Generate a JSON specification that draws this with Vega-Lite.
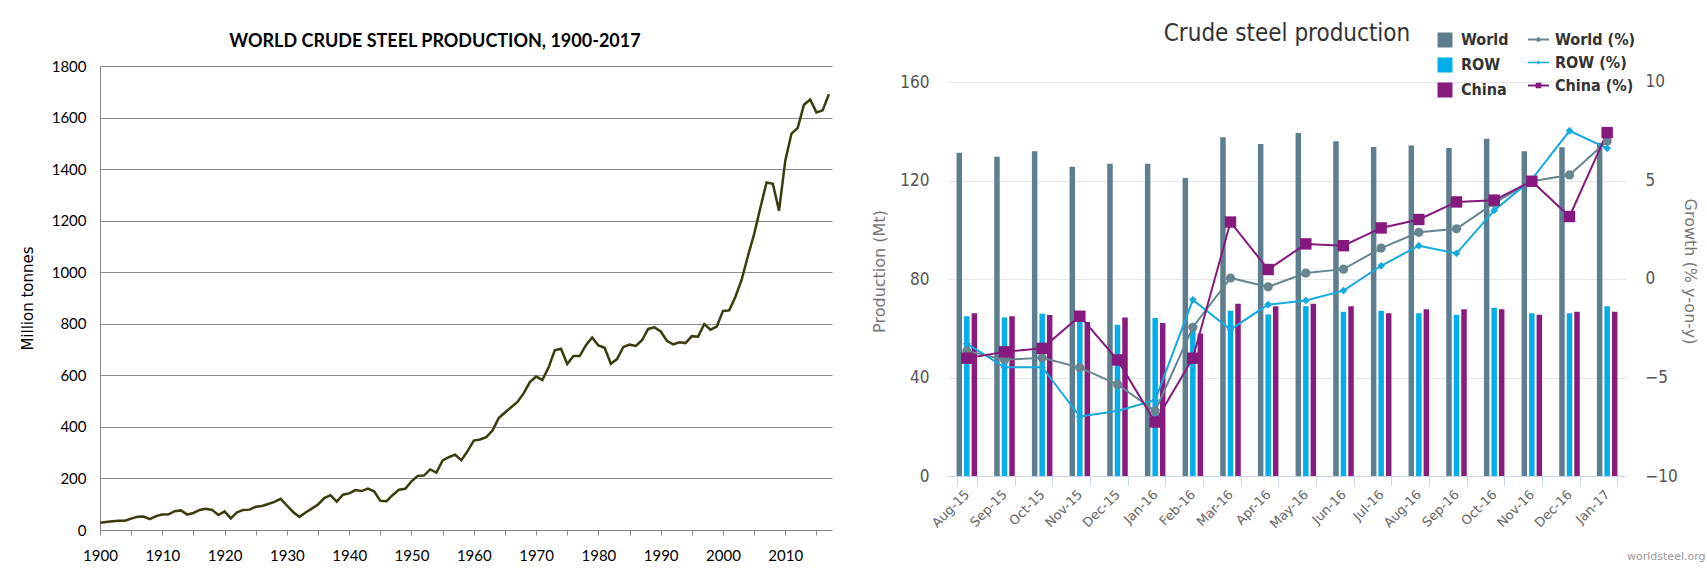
{
  "$schema": "https://vega.github.io/schema/vega-lite/v6.json",
  "background": "white",
  "padding": {"left": 20, "top": 22, "right": 0, "bottom": 0},
  "spacing": 37,
  "config": {"view": {"stroke": null}},
  "resolve": {"scale": {"color": "independent", "shape": "independent"}},
  "datasets": {
    "annual": [
      {"year":1900,"mt":28},{"year":1901,"mt":31},{"year":1902,"mt":34},{"year":1903,"mt":36},{"year":1904,"mt":36},
      {"year":1905,"mt":44},{"year":1906,"mt":51},{"year":1907,"mt":52},{"year":1908,"mt":42},{"year":1909,"mt":54},
      {"year":1910,"mt":60},{"year":1911,"mt":61},{"year":1912,"mt":73},{"year":1913,"mt":76},{"year":1914,"mt":60},
      {"year":1915,"mt":66},{"year":1916,"mt":78},{"year":1917,"mt":82},{"year":1918,"mt":78},{"year":1919,"mt":58},
      {"year":1920,"mt":72},{"year":1921,"mt":45},{"year":1922,"mt":69},{"year":1923,"mt":78},{"year":1924,"mt":79},
      {"year":1925,"mt":90},{"year":1926,"mt":93},{"year":1927,"mt":101},{"year":1928,"mt":109},{"year":1929,"mt":121},
      {"year":1930,"mt":95},{"year":1931,"mt":70},{"year":1932,"mt":51},{"year":1933,"mt":68},{"year":1934,"mt":83},
      {"year":1935,"mt":99},{"year":1936,"mt":124},{"year":1937,"mt":135},{"year":1938,"mt":110},{"year":1939,"mt":137},
      {"year":1940,"mt":142},{"year":1941,"mt":155},{"year":1942,"mt":151},{"year":1943,"mt":161},{"year":1944,"mt":150},
      {"year":1945,"mt":113},{"year":1946,"mt":112},{"year":1947,"mt":136},{"year":1948,"mt":156},{"year":1949,"mt":160},
      {"year":1950,"mt":189},{"year":1951,"mt":210},{"year":1952,"mt":211},{"year":1953,"mt":235},{"year":1954,"mt":223},
      {"year":1955,"mt":270},{"year":1956,"mt":283},{"year":1957,"mt":292},{"year":1958,"mt":271},{"year":1959,"mt":306},
      {"year":1960,"mt":347},{"year":1961,"mt":351},{"year":1962,"mt":360},{"year":1963,"mt":386},{"year":1964,"mt":434},
      {"year":1965,"mt":456},{"year":1966,"mt":476},{"year":1967,"mt":497},{"year":1968,"mt":530},{"year":1969,"mt":574},
      {"year":1970,"mt":595},{"year":1971,"mt":582},{"year":1972,"mt":630},{"year":1973,"mt":697},{"year":1974,"mt":703},
      {"year":1975,"mt":644},{"year":1976,"mt":675},{"year":1977,"mt":675},{"year":1978,"mt":717},{"year":1979,"mt":747},
      {"year":1980,"mt":716},{"year":1981,"mt":707},{"year":1982,"mt":645},{"year":1983,"mt":663},{"year":1984,"mt":710},
      {"year":1985,"mt":719},{"year":1986,"mt":714},{"year":1987,"mt":736},{"year":1988,"mt":780},{"year":1989,"mt":786},
      {"year":1990,"mt":770},{"year":1991,"mt":734},{"year":1992,"mt":720},{"year":1993,"mt":728},{"year":1994,"mt":725},
      {"year":1995,"mt":752},{"year":1996,"mt":750},{"year":1997,"mt":799},{"year":1998,"mt":777},{"year":1999,"mt":789},
      {"year":2000,"mt":850},{"year":2001,"mt":852},{"year":2002,"mt":905},{"year":2003,"mt":971},{"year":2004,"mt":1063},
      {"year":2005,"mt":1148},{"year":2006,"mt":1250},{"year":2007,"mt":1348},{"year":2008,"mt":1343},{"year":2009,"mt":1239},
      {"year":2010,"mt":1433},{"year":2011,"mt":1538},{"year":2012,"mt":1560},{"year":2013,"mt":1650},{"year":2014,"mt":1670},
      {"year":2015,"mt":1620},{"year":2016,"mt":1628},{"year":2017,"mt":1691}
    ],
    "bars": [
      {"month":"Aug-15","series":"World","prod":131.3},{"month":"Aug-15","series":"ROW","prod":64.9},{"month":"Aug-15","series":"China","prod":66.1},
      {"month":"Sep-15","series":"World","prod":129.6},{"month":"Sep-15","series":"ROW","prod":64.4},{"month":"Sep-15","series":"China","prod":64.9},
      {"month":"Oct-15","series":"World","prod":131.9},{"month":"Oct-15","series":"ROW","prod":65.9},{"month":"Oct-15","series":"China","prod":65.4},
      {"month":"Nov-15","series":"World","prod":125.6},{"month":"Nov-15","series":"ROW","prod":65.0},{"month":"Nov-15","series":"China","prod":62.5},
      {"month":"Dec-15","series":"World","prod":126.8},{"month":"Dec-15","series":"ROW","prod":61.4},{"month":"Dec-15","series":"China","prod":64.4},
      {"month":"Jan-16","series":"World","prod":126.8},{"month":"Jan-16","series":"ROW","prod":64.2},{"month":"Jan-16","series":"China","prod":62.1},
      {"month":"Feb-16","series":"World","prod":121.0},{"month":"Feb-16","series":"ROW","prod":60.0},{"month":"Feb-16","series":"China","prod":57.9},
      {"month":"Mar-16","series":"World","prod":137.6},{"month":"Mar-16","series":"ROW","prod":67.1},{"month":"Mar-16","series":"China","prod":70.0},
      {"month":"Apr-16","series":"World","prod":134.8},{"month":"Apr-16","series":"ROW","prod":65.6},{"month":"Apr-16","series":"China","prod":68.9},
      {"month":"May-16","series":"World","prod":139.3},{"month":"May-16","series":"ROW","prod":68.9},{"month":"May-16","series":"China","prod":69.9},
      {"month":"Jun-16","series":"World","prod":135.9},{"month":"Jun-16","series":"ROW","prod":66.7},{"month":"Jun-16","series":"China","prod":68.9},
      {"month":"Jul-16","series":"World","prod":133.6},{"month":"Jul-16","series":"ROW","prod":67.1},{"month":"Jul-16","series":"China","prod":66.1},
      {"month":"Aug-16","series":"World","prod":134.2},{"month":"Aug-16","series":"ROW","prod":66.1},{"month":"Aug-16","series":"China","prod":67.7},
      {"month":"Sep-16","series":"World","prod":133.2},{"month":"Sep-16","series":"ROW","prod":65.5},{"month":"Sep-16","series":"China","prod":67.7},
      {"month":"Oct-16","series":"World","prod":137.0},{"month":"Oct-16","series":"ROW","prod":68.3},{"month":"Oct-16","series":"China","prod":67.7},
      {"month":"Nov-16","series":"World","prod":131.9},{"month":"Nov-16","series":"ROW","prod":66.1},{"month":"Nov-16","series":"China","prod":65.5},
      {"month":"Dec-16","series":"World","prod":133.5},{"month":"Dec-16","series":"ROW","prod":66.1},{"month":"Dec-16","series":"China","prod":66.7},
      {"month":"Jan-17","series":"World","prod":135.3},{"month":"Jan-17","series":"ROW","prod":68.9},{"month":"Jan-17","series":"China","prod":66.7}
    ],
    "growth": [
      {"month":"Aug-15","series":"World (%)","pct":-3.65},{"month":"Aug-15","series":"ROW (%)","pct":-3.28},{"month":"Aug-15","series":"China (%)","pct":-4.02},
      {"month":"Sep-15","series":"World (%)","pct":-4.1},{"month":"Sep-15","series":"ROW (%)","pct":-4.48},{"month":"Sep-15","series":"China (%)","pct":-3.7},
      {"month":"Oct-15","series":"World (%)","pct":-4.0},{"month":"Oct-15","series":"ROW (%)","pct":-4.48},{"month":"Oct-15","series":"China (%)","pct":-3.52},
      {"month":"Nov-15","series":"World (%)","pct":-4.5},{"month":"Nov-15","series":"ROW (%)","pct":-6.98},{"month":"Nov-15","series":"China (%)","pct":-1.89},
      {"month":"Dec-15","series":"World (%)","pct":-5.35},{"month":"Dec-15","series":"ROW (%)","pct":-6.7},{"month":"Dec-15","series":"China (%)","pct":-4.11},
      {"month":"Jan-16","series":"World (%)","pct":-6.7},{"month":"Jan-16","series":"ROW (%)","pct":-6.15},{"month":"Jan-16","series":"China (%)","pct":-7.26},
      {"month":"Feb-16","series":"World (%)","pct":-2.45},{"month":"Feb-16","series":"ROW (%)","pct":-1.06},{"month":"Feb-16","series":"China (%)","pct":-4.02},
      {"month":"Mar-16","series":"World (%)","pct":0.05},{"month":"Mar-16","series":"ROW (%)","pct":-2.56},{"month":"Mar-16","series":"China (%)","pct":2.89},
      {"month":"Apr-16","series":"World (%)","pct":-0.4},{"month":"Apr-16","series":"ROW (%)","pct":-1.3},{"month":"Apr-16","series":"China (%)","pct":0.48},
      {"month":"May-16","series":"World (%)","pct":0.3},{"month":"May-16","series":"ROW (%)","pct":-1.09},{"month":"May-16","series":"China (%)","pct":1.78},
      {"month":"Jun-16","series":"World (%)","pct":0.5},{"month":"Jun-16","series":"ROW (%)","pct":-0.59},{"month":"Jun-16","series":"China (%)","pct":1.69},
      {"month":"Jul-16","series":"World (%)","pct":1.57},{"month":"Jul-16","series":"ROW (%)","pct":0.67},{"month":"Jul-16","series":"China (%)","pct":2.59},
      {"month":"Aug-16","series":"World (%)","pct":2.37},{"month":"Aug-16","series":"ROW (%)","pct":1.69},{"month":"Aug-16","series":"China (%)","pct":3.02},
      {"month":"Sep-16","series":"World (%)","pct":2.55},{"month":"Sep-16","series":"ROW (%)","pct":1.3},{"month":"Sep-16","series":"China (%)","pct":3.91},
      {"month":"Oct-16","series":"World (%)","pct":3.85},{"month":"Oct-16","series":"ROW (%)","pct":3.48},{"month":"Oct-16","series":"China (%)","pct":4.0},
      {"month":"Nov-16","series":"World (%)","pct":4.96},{"month":"Nov-16","series":"ROW (%)","pct":5.06},{"month":"Nov-16","series":"China (%)","pct":4.96},
      {"month":"Dec-16","series":"World (%)","pct":5.28},{"month":"Dec-16","series":"ROW (%)","pct":7.52},{"month":"Dec-16","series":"China (%)","pct":3.17},
      {"month":"Jan-17","series":"World (%)","pct":7.0},{"month":"Jan-17","series":"ROW (%)","pct":6.63},{"month":"Jan-17","series":"China (%)","pct":7.43}
    ]
  },
  "hconcat": [
    {
      "width": 732,
      "height": 464,
      "data": {"name": "annual"},
      "title": {"text": "WORLD CRUDE STEEL PRODUCTION, 1900-2017", "font": "Lato", "fontSize": 18, "fontWeight": "bold", "color": "#000000", "offset": 8, "dx": -31, "anchor": "middle"},
      "mark": {"type": "line", "color": "#3b3b0c", "strokeWidth": 2.5},
      "encoding": {
        "x": {
          "field": "year", "type": "quantitative",
          "scale": {"domain": [1900, 2017.5], "nice": false, "zero": false},
          "axis": {
            "title": null, "values": [1900,1905,1910,1915,1920,1925,1930,1935,1940,1945,1950,1955,1960,1965,1970,1975,1980,1985,1990,1995,2000,2005,2010,2015],
            "format": "d", "labelExpr": "datum.value % 10 === 0 ? datum.label : ''",
            "labelFlush": false, "labelOverlap": false, "grid": false,
            "domainColor": "#868686", "tickColor": "#868686", "tickSize": 5,
            "labelFont": "Lato", "labelFontSize": 15, "labelColor": "#000000", "labelPadding": 13
          }
        },
        "y": {
          "field": "mt", "type": "quantitative",
          "scale": {"domain": [0, 1800], "nice": false},
          "axis": {
            "title": "Million tonnes", "titleFont": "DejaVu Sans", "titleFontSize": 15, "titleFontWeight": "normal", "titleColor": "#000000", "titlePadding": 16,
            "values": [0,200,400,600,800,1000,1200,1400,1600,1800], "format": "d",
            "grid": true, "gridColor": "#8c8c8c", "ticks": false, "domainColor": "#868686",
            "labelFont": "Lato", "labelFontSize": 15, "labelColor": "#000000", "labelPadding": 14
          }
        }
      }
    },
    {
      "width": 678,
      "height": 410,
      "title": {"text": "Crude steel production", "font": "Liberation Sans Narrow, DejaVu Sans Condensed, sans-serif", "fontSize": 24, "fontWeight": "normal", "color": "#333333", "offset": -17, "anchor": "middle"},
      "layer": [
        {
          "data": {"name": "bars"},
          "mark": {"type": "bar"},
          "encoding": {
            "x": {
              "field": "month", "type": "nominal",
              "sort": ["Aug-15","Sep-15","Oct-15","Nov-15","Dec-15","Jan-16","Feb-16","Mar-16","Apr-16","May-16","Jun-16","Jul-16","Aug-16","Sep-16","Oct-16","Nov-16","Dec-16","Jan-17"],
              "scale": {"paddingInner": 0.455, "paddingOuter": 0.2275},
              "axis": {
                "title": "worldsteel.org", "titleFont": "DejaVu Sans", "titleFontSize": 11, "titleColor": "#999999", "titleFontWeight": "normal",
                "titleAnchor": "end", "titleAlign": "right", "titleBaseline": "middle", "titleX": 757, "titleY": 80,
                "labelAngle": -45, "labelAlign": "right", "labelBaseline": "middle",
                "labelFont": "DejaVu Sans", "labelFontSize": 13, "labelColor": "#666666", "labelPadding": 6,
                "domainColor": "#ccd6eb", "tickColor": "#ccd6eb", "tickSize": 10, "tickBand": "extent", "grid": false
              }
            },
            "xOffset": {"field": "series", "type": "nominal", "sort": ["World","ROW","China"], "scale": {"paddingInner": 0.27, "paddingOuter": 0}},
            "y": {
              "field": "prod", "type": "quantitative",
              "scale": {"domain": [0, 166.5], "nice": false},
              "axis": {
                "orient": "left", "values": [0,40,80,120,160],
                "title": "Production (Mt)", "titleFont": "DejaVu Sans", "titleFontSize": 16, "titleFontWeight": "normal", "titleColor": "#777777", "titlePadding": 12,
                "labelFont": "Liberation Sans Narrow, DejaVu Sans Condensed, sans-serif", "labelFontSize": 17, "labelColor": "#555555", "labelPadding": 19,
                "grid": true, "gridColor": "#e6e6e6", "domain": false, "ticks": false
              }
            },
            "color": {
              "field": "series", "type": "nominal",
              "scale": {"domain": ["World","ROW","China"], "range": ["#5e7e8f","#00aeea","#8a1b7e"]},
              "legend": {
                "orient": "none", "legendX": 489, "legendY": -34, "title": null, "direction": "vertical",
                "symbolType": "square", "symbolSize": 225, "symbolStrokeWidth": 0,
                "labelFont": "Liberation Sans Narrow, DejaVu Sans Condensed, sans-serif", "labelFontSize": 16, "labelFontWeight": "bold", "labelColor": "#333333",
                "labelOffset": 8, "rowPadding": 9
              }
            }
          }
        },
        {
          "data": {"name": "growth"},
          "encoding": {
            "x": {"field": "month", "type": "nominal", "sort": ["Aug-15","Sep-15","Oct-15","Nov-15","Dec-15","Jan-16","Feb-16","Mar-16","Apr-16","May-16","Jun-16","Jul-16","Aug-16","Sep-16","Oct-16","Nov-16","Dec-16","Jan-17"]},
            "y": {
              "field": "pct", "type": "quantitative",
              "scale": {"domain": [-10, 10.81], "nice": false, "zero": false},
              "axis": {
                "orient": "right", "values": [-10,-5,0,5,10],
                "title": "Growth (% y-on-y)", "titleFont": "DejaVu Sans", "titleFontSize": 16, "titleFontWeight": "normal", "titleColor": "#777777", "titlePadding": 4,
                "labelFont": "Liberation Sans Narrow, DejaVu Sans Condensed, sans-serif", "labelFontSize": 17, "labelColor": "#555555", "labelPadding": 19,
                "grid": false, "domain": false, "ticks": false
              }
            }
          },
          "layer": [
            {
              "mark": {"type": "line", "strokeWidth": 2},
              "encoding": {
                "color": {
                  "field": "series", "type": "nominal",
                  "scale": {"domain": ["World (%)","ROW (%)","China (%)"], "range": ["#66858f","#15a9e1","#86197e"]},
                  "legend": {
                    "orient": "none", "legendX": 580, "legendY": -37, "title": null, "direction": "vertical",
                    "symbolSize": 441, "symbolStrokeWidth": 0,
                    "labelFont": "Liberation Sans Narrow, DejaVu Sans Condensed, sans-serif", "labelFontSize": 16, "labelFontWeight": "bold", "labelColor": "#333333",
                    "labelOffset": 6, "rowPadding": 4,
                    "encode": {
                      "symbols": {
                        "update": {
                          "shape": {"signal": "datum.value === 'World (%)' ? 'M-1,-0.09H1V0.09H-1Z M-0.22,0A0.22,0.22 0 1,1 0.22,0A0.22,0.22 0 1,1 -0.22,0Z' : datum.value === 'ROW (%)' ? 'M-1,-0.07H1V0.07H-1Z M0,-0.2L0.2,0L0,0.2L-0.2,0Z' : 'M-1,-0.09H1V0.09H-1Z M-0.27,-0.27H0.27V0.27H-0.27Z'"},
                          "fill": {"signal": "datum.value === 'World (%)' ? '#66858f' : datum.value === 'ROW (%)' ? '#15a9e1' : '#86197e'"},
                          "strokeWidth": {"value": 0},
                          "opacity": {"value": 1},
                          "fillOpacity": {"value": 1}
                        }
                      }
                    }
                  }
                }
              }
            },
            {
              "transform": [{"filter": "datum.series === 'World (%)'"}],
              "mark": {"type": "point", "shape": "circle", "filled": true, "size": 85, "color": "#66858f", "opacity": 1}
            },
            {
              "transform": [{"filter": "datum.series === 'ROW (%)'"}],
              "mark": {"type": "point", "shape": "diamond", "filled": true, "size": 60, "color": "#15a9e1", "opacity": 1}
            },
            {
              "transform": [{"filter": "datum.series === 'China (%)'"}],
              "mark": {"type": "point", "shape": "square", "filled": true, "size": 130, "color": "#86197e", "opacity": 1}
            }
          ]
        }
      ],
      "resolve": {"scale": {"y": "independent", "color": "independent"}}
    }
  ]
}
